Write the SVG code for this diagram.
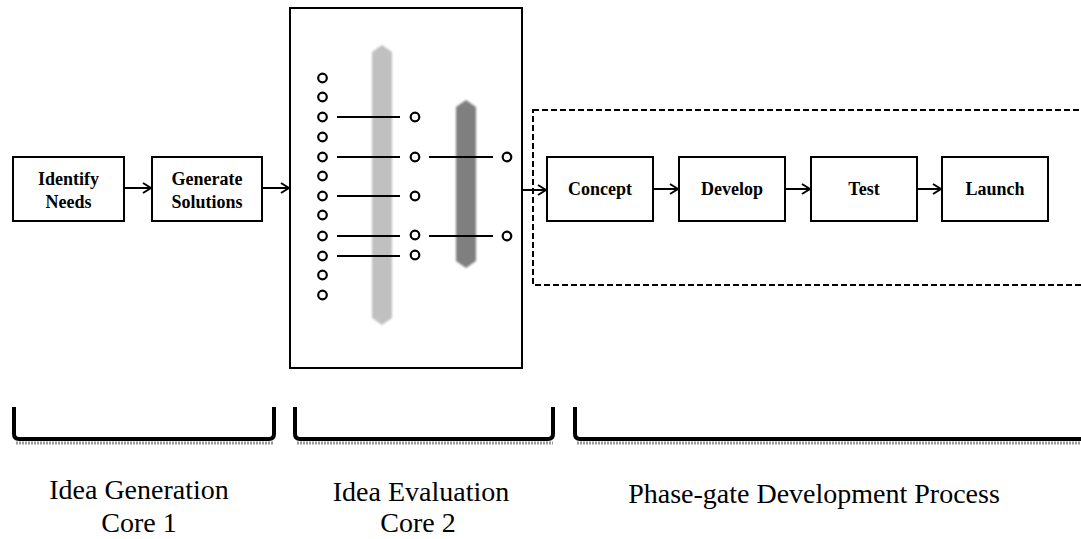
<svg xmlns="http://www.w3.org/2000/svg" width="1081" height="539" viewBox="0 0 1081 539">
<style>
.box{fill:#fff;stroke:#000;stroke-width:2}
.bt{font-family:"Liberation Serif",serif;font-weight:bold;font-size:18px;fill:#000;text-anchor:middle}
.lbl{font-family:"Liberation Serif",serif;font-size:28px;fill:#000;text-anchor:middle}
.con{stroke:#000;stroke-width:2;fill:none}
.dot{fill:#fff;stroke:#000;stroke-width:2.2}
.ln{stroke:#000;stroke-width:2}
.br{fill:none;stroke:#000;stroke-width:4;stroke-linejoin:round}
.brs{fill:none;stroke:#999;stroke-width:3;stroke-dasharray:2 1}
</style>
<defs>
<marker id="ah" markerWidth="10" markerHeight="12" refX="9" refY="6" orient="auto" markerUnits="userSpaceOnUse">
<path d="M1,1 L9,6 L1,11" fill="none" stroke="#000" stroke-width="2"/>
</marker>
<filter id="blur" x="-50%" y="-10%" width="200%" height="120%"><feGaussianBlur stdDeviation="1"/></filter>
</defs>

<g id="phase-container">
<rect x="533" y="110" width="560" height="175" fill="none" stroke="#000" stroke-width="2" stroke-dasharray="6 3"/>
</g>

<g id="identify-needs">
<rect class="box" x="13" y="157" width="111" height="64"/>
<text class="bt" x="68.5" y="185">Identify</text>
<text class="bt" x="68.5" y="208">Needs</text>
</g>

<g id="generate-solutions">
<rect class="box" x="152" y="157" width="110" height="64"/>
<text class="bt" x="207" y="185">Generate</text>
<text class="bt" x="207" y="208">Solutions</text>
</g>

<g id="evaluation">
<rect class="box" x="290" y="8" width="232" height="360"/>
<polygon points="372,52 382,45 392,52 392,318 382,325 372,318" fill="#c0c0c0" filter="url(#blur)"/>
<polygon points="456,107 466,100 476,107 476,261 466,268 456,261" fill="#7f7f7f" filter="url(#blur)"/>
<g class="ln">
<line x1="337" y1="117" x2="400" y2="117"/>
<line x1="337" y1="157" x2="400" y2="157"/>
<line x1="337" y1="196" x2="400" y2="196"/>
<line x1="337" y1="236" x2="400" y2="236"/>
<line x1="337" y1="256" x2="400" y2="256"/>
<line x1="429" y1="157" x2="493" y2="157"/>
<line x1="429" y1="236" x2="493" y2="236"/>
</g>
<g class="dot">
<circle cx="322.5" cy="78" r="4.3"/>
<circle cx="322.5" cy="97" r="4.3"/>
<circle cx="322.5" cy="117" r="4.3"/>
<circle cx="322.5" cy="137" r="4.3"/>
<circle cx="322.5" cy="157" r="4.3"/>
<circle cx="322.5" cy="176" r="4.3"/>
<circle cx="322.5" cy="196" r="4.3"/>
<circle cx="322.5" cy="215" r="4.3"/>
<circle cx="322.5" cy="236" r="4.3"/>
<circle cx="322.5" cy="256" r="4.3"/>
<circle cx="322.5" cy="275" r="4.3"/>
<circle cx="322.5" cy="295" r="4.3"/>
<circle cx="415" cy="117" r="4.3"/>
<circle cx="415" cy="157" r="4.3"/>
<circle cx="415" cy="196" r="4.3"/>
<circle cx="415" cy="235" r="4.3"/>
<circle cx="415" cy="255" r="4.3"/>
<circle cx="507" cy="157" r="4.3"/>
<circle cx="507" cy="236" r="4.3"/>
</g>
</g>

<g id="concept">
<rect class="box" x="547" y="157" width="106" height="64"/>
<text class="bt" x="600" y="195">Concept</text>
</g>
<g id="develop">
<rect class="box" x="679" y="157" width="106" height="64"/>
<text class="bt" x="732" y="195">Develop</text>
</g>
<g id="test">
<rect class="box" x="811" y="157" width="106" height="64"/>
<text class="bt" x="864" y="195">Test</text>
</g>
<g id="launch">
<rect class="box" x="942" y="157" width="106" height="64"/>
<text class="bt" x="995" y="195">Launch</text>
</g>

<g id="connectors">
<line class="con" x1="124" y1="188" x2="151" y2="188" marker-end="url(#ah)"/>
<line class="con" x1="262" y1="188" x2="289" y2="188" marker-end="url(#ah)"/>
<line class="con" x1="522" y1="190" x2="546" y2="190" marker-end="url(#ah)"/>
<line class="con" x1="653" y1="189" x2="678" y2="189" marker-end="url(#ah)"/>
<line class="con" x1="785" y1="189" x2="810" y2="189" marker-end="url(#ah)"/>
<line class="con" x1="917" y1="189" x2="941" y2="189" marker-end="url(#ah)"/>
</g>

<g id="core1">
<path class="brs" d="M16,443 L274,443"/>
<path class="br" d="M14,407 L14,434 Q14,439 19,439 L269,439 Q274,439 274,434 L274,407"/>
<text class="lbl" x="139" y="499">Idea Generation</text>
<text class="lbl" x="139" y="532">Core 1</text>
</g>
<g id="core2">
<path class="brs" d="M297,443 L553,443"/>
<path class="br" d="M295,407 L295,434 Q295,439 300,439 L548,439 Q553,439 553,434 L553,407"/>
<text class="lbl" x="421" y="501">Idea Evaluation</text>
<text class="lbl" x="418" y="532">Core 2</text>
</g>
<g id="phase-gate">
<path class="brs" d="M577,443 L1081,443"/>
<path class="br" d="M575,407 L575,434 Q575,439 580,439 L1085,439"/>
<text class="lbl" x="814" y="503">Phase-gate Development Process</text>
</g>
</svg>
